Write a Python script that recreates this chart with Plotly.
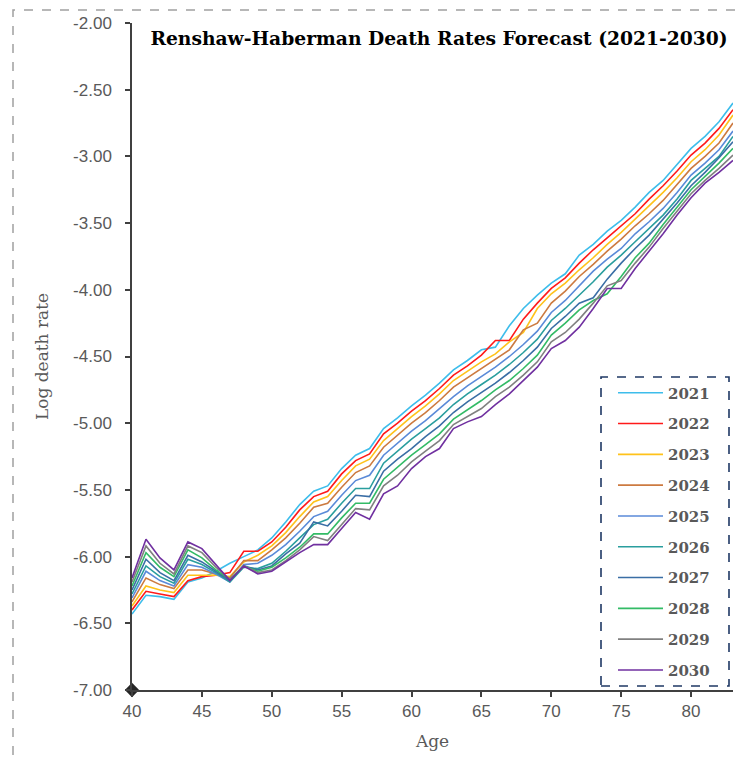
import plotly.graph_objects as go

ages = list(range(40, 84))

y2021 = [-6.43, -6.29, -6.30, -6.32, -6.19, -6.16, -6.11, -6.05, -6.00, -5.95,
         -5.86, -5.74, -5.61, -5.51, -5.47, -5.34, -5.24, -5.19, -5.04, -4.96,
         -4.87, -4.79, -4.70, -4.60, -4.53, -4.45, -4.43, -4.27, -4.14, -4.04,
         -3.95, -3.88, -3.74, -3.66, -3.56, -3.48, -3.38, -3.27, -3.18, -3.06,
         -2.94, -2.85, -2.74, -2.60]
y2022 = [-6.40, -6.26, -6.28, -6.30, -6.18, -6.15, -6.14, -6.12, -5.96, -5.96,
         -5.89, -5.78, -5.65, -5.55, -5.51, -5.38, -5.28, -5.23, -5.08, -5.00,
         -4.91, -4.83, -4.74, -4.64, -4.57, -4.49, -4.38, -4.38, -4.22, -4.10,
         -3.99, -3.91, -3.80, -3.70, -3.61, -3.52, -3.43, -3.32, -3.22, -3.11,
         -2.99, -2.90, -2.79, -2.65]
y2023 = [-6.37, -6.22, -6.25, -6.27, -6.14, -6.14, -6.14, -6.15, -6.04, -5.99,
         -5.92, -5.82, -5.70, -5.59, -5.55, -5.43, -5.32, -5.27, -5.13, -5.04,
         -4.95, -4.87, -4.78, -4.68, -4.61, -4.54, -4.48, -4.39, -4.32, -4.14,
         -4.03, -3.95, -3.85, -3.76, -3.66, -3.57, -3.47, -3.37, -3.27, -3.16,
         -3.04, -2.95, -2.84, -2.69]
y2024 = [-6.34, -6.16, -6.21, -6.24, -6.10, -6.10, -6.13, -6.16, -6.03, -6.03,
         -5.95, -5.86, -5.75, -5.63, -5.60, -5.48, -5.37, -5.32, -5.18, -5.09,
         -5.00, -4.92, -4.83, -4.73, -4.66, -4.59, -4.52, -4.45, -4.30, -4.25,
         -4.10, -4.01, -3.90, -3.81, -3.71, -3.62, -3.52, -3.43, -3.33, -3.21,
         -3.09, -3.00, -2.90, -2.75]
y2025 = [-6.31, -6.11, -6.18, -6.22, -6.06, -6.08, -6.13, -6.19, -6.06, -6.05,
         -5.99, -5.91, -5.81, -5.70, -5.66, -5.54, -5.43, -5.39, -5.24, -5.15,
         -5.06, -4.98, -4.89, -4.80, -4.72, -4.65, -4.58, -4.50, -4.41, -4.31,
         -4.17, -4.08, -3.97, -3.86, -3.77, -3.69, -3.58, -3.49, -3.39, -3.27,
         -3.14, -3.05, -2.95, -2.81]
y2026 = [-6.28, -6.07, -6.15, -6.20, -6.02, -6.06, -6.12, -6.19, -6.08, -6.09,
         -6.05, -5.96, -5.86, -5.76, -5.72, -5.60, -5.49, -5.49, -5.30, -5.21,
         -5.12, -5.04, -4.96, -4.86, -4.78, -4.71, -4.64, -4.56, -4.47, -4.37,
         -4.23, -4.14, -4.04, -3.94, -3.83, -3.74, -3.64, -3.54, -3.44, -3.32,
         -3.18, -3.09, -3.00, -2.85]
y2027 = [-6.25, -6.02, -6.12, -6.18, -5.99, -6.04, -6.11, -6.18, -6.07, -6.10,
         -6.07, -5.98, -5.90, -5.74, -5.77, -5.66, -5.54, -5.55, -5.36, -5.27,
         -5.19, -5.10, -5.02, -4.92, -4.84, -4.77, -4.70, -4.62, -4.53, -4.43,
         -4.29, -4.20, -4.10, -4.06, -3.92, -3.80, -3.69, -3.59, -3.47, -3.35,
         -3.22, -3.12, -3.01, -2.89]
y2028 = [-6.22, -5.97, -6.08, -6.15, -5.95, -6.01, -6.10, -6.17, -6.07, -6.11,
         -6.08, -6.01, -5.93, -5.83, -5.83, -5.71, -5.60, -5.60, -5.42, -5.33,
         -5.24, -5.16, -5.08, -4.97, -4.90, -4.83, -4.75, -4.68, -4.59, -4.49,
         -4.34, -4.25, -4.15, -4.08, -4.03, -3.90, -3.76, -3.65, -3.51, -3.38,
         -3.25, -3.15, -3.05, -2.94]
y2029 = [-6.19, -5.92, -6.05, -6.13, -5.92, -5.97, -6.08, -6.17, -6.07, -6.12,
         -6.10, -6.03, -5.95, -5.85, -5.88, -5.76, -5.64, -5.65, -5.47, -5.39,
         -5.29, -5.21, -5.13, -5.01, -4.95, -4.89, -4.80, -4.73, -4.64, -4.54,
         -4.39, -4.32, -4.22, -4.10, -3.97, -3.93, -3.80, -3.68, -3.54, -3.41,
         -3.28, -3.18, -3.09, -2.99]
y2030 = [-6.16, -5.87, -6.01, -6.10, -5.89, -5.94, -6.06, -6.18, -6.07, -6.13,
         -6.11, -6.04, -5.97, -5.91, -5.91, -5.79, -5.67, -5.72, -5.53, -5.47,
         -5.34, -5.25, -5.19, -5.04, -4.99, -4.95, -4.86, -4.78, -4.68, -4.58,
         -4.44, -4.38, -4.28, -4.14, -3.99, -3.99, -3.84, -3.71, -3.58, -3.44,
         -3.31, -3.20, -3.12, -3.03]

years = ["2021", "2022", "2023", "2024", "2025", "2026", "2027", "2028", "2029", "2030"]
series = [y2021, y2022, y2023, y2024, y2025, y2026, y2027, y2028, y2029, y2030]
colors = ["#3DBDEB", "#FF1A1A", "#FFC21A", "#CC7A40", "#5A8AD8",
          "#2A9E9E", "#3A6EA5", "#33BB66", "#808080", "#7030A0"]

y_tick_vals = [-7.0, -6.5, -6.0, -5.5, -5.0, -4.5, -4.0, -3.5, -3.0, -2.5, -2.0]
y_tick_text = ["-7.00", "-6.50", "-6.00", "-5.50", "-5.00", "-4.50",
               "-4.00", "-3.50", "-3.00", "-2.50", "-2.00"]
x_tick_vals = [40, 45, 50, 55, 60, 65, 70, 75, 80]
y_range = [-7.0, -2.0]
x_range = [40, 83]

# page body has an 8px margin; work in figure pixels = screen pixels - 8
OFF = 8
W, H = 740, 750
L, T = 132 - OFF, 23 - OFF
R = W - (733 - OFF)
B = H - (690 - OFF)
plot_h = H - T - B
plot_w = W - L - R


def px_x(p):
    return (p - OFF - L) / plot_w


def px_y(p):
    return (H - B - (p - OFF)) / plot_h


fig = go.Figure()
legend_layouts = {}
for i, (yr, ys, c) in enumerate(zip(years, series, colors)):
    key = "legend" if i == 0 else f"legend{i+1}"
    fig.add_trace(go.Scatter(x=ages, y=ys, mode="lines", name=yr,
                             line=dict(color=c, width=1.6), legend=key))
    legend_layouts[key] = dict(
        x=px_x(613), xanchor="left",
        y=px_y(393 + i * 30.8), yanchor="middle",
        bgcolor="rgba(0,0,0,0)", borderwidth=0, itemwidth=45,
        font=dict(family="DejaVu Serif", size=15, color="#595959", weight="bold"),
    )

# origin marker
fig.add_trace(go.Scatter(x=[x_range[0]], y=[y_range[0]], mode="markers",
                         marker=dict(symbol="diamond", size=11, color="#262626"),
                         showlegend=False, cliponaxis=False, hoverinfo="skip"))

fig.update_layout(
    width=W, height=H,
    margin=dict(l=L, r=R, t=T, b=B, autoexpand=False),
    paper_bgcolor="white", plot_bgcolor="white",
    title=dict(text="<b>Renshaw-Haberman Death Rates Forecast (2021-2030)</b>",
               font=dict(family="DejaVu Serif", size=18.7, color="black"),
               x=(439 - OFF) / W, xanchor="center", y=1 - (38 - OFF) / H, yanchor="middle",
               xref="container", yref="container"),
    xaxis=dict(range=x_range, tickvals=x_tick_vals, showgrid=False, zeroline=False,
               automargin=False,
               showline=True, linecolor="#404040", linewidth=1.5,
               ticks="outside", ticklen=5, tickcolor="#404040", tickwidth=1.5,
               tickfont=dict(family="Liberation Sans", size=17, color="#595959"),
               title=dict(text="Age", font=dict(family="DejaVu Serif", size=17, color="#595959"),
                          standoff=15)),
    yaxis=dict(range=y_range, tickvals=y_tick_vals, ticktext=y_tick_text,
               showgrid=False, zeroline=False, automargin=False,
               showline=True, linecolor="#404040", linewidth=1.5,
               ticks="outside", ticklen=5, tickcolor="#404040", tickwidth=1.5,
               ticklabelstandoff=10,
               tickfont=dict(family="Liberation Sans", size=17, color="#595959"),
               title=dict(text="Log death rate", font=dict(family="DejaVu Serif", size=17, color="#595959"),
                          standoff=20)),
    shapes=[
        dict(type="rect", xref="paper", yref="paper",
             x0=px_x(601), x1=px_x(729), y0=px_y(686), y1=px_y(377),
             line=dict(color="#1F3864", width=1.6, dash="dash")),
        dict(type="rect", xref="paper", yref="paper",
             x0=px_x(13), x1=px_x(780), y0=px_y(800), y1=px_y(10),
             line=dict(color="#A0A0A0", width=1.5, dash="dash"), layer="below"),
    ],
    **legend_layouts,
)

fig.write_html("out.html")
